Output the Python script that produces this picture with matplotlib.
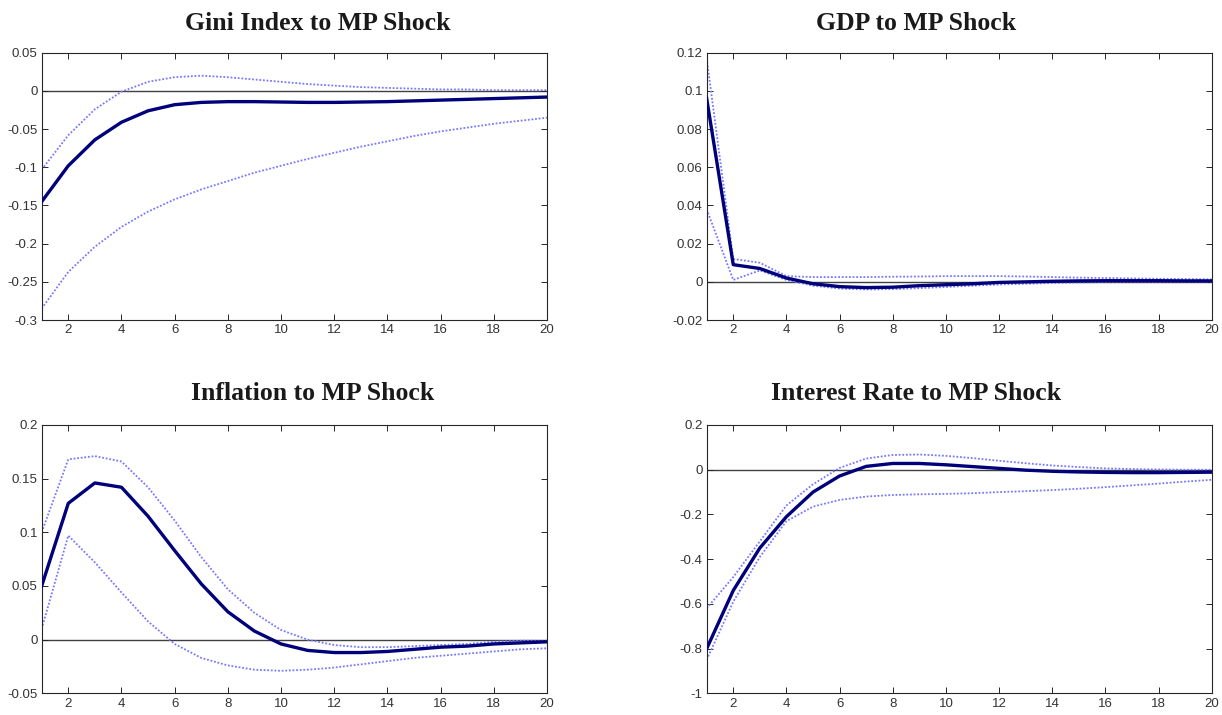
import numpy as np
import matplotlib
matplotlib.use("Agg")
import matplotlib.pyplot as plt

plt.rcParams["font.family"] = ["Liberation Sans", "DejaVu Sans"]

horizon = np.arange(1, 21)

# Gini index response
gini_mean = [-0.145, -0.098, -0.064, -0.041, -0.026, -0.018, -0.015, -0.014, -0.014, -0.0145,
             -0.015, -0.015, -0.0145, -0.014, -0.013, -0.012, -0.011, -0.010, -0.009, -0.008]
gini_upper = [-0.103, -0.058, -0.024, -0.001, 0.012, 0.018, 0.020, 0.018, 0.015, 0.012,
              0.009, 0.007, 0.005, 0.004, 0.003, 0.002, 0.002, 0.001, 0.001, 0.001]
gini_lower = [-0.285, -0.237, -0.204, -0.178, -0.158, -0.142, -0.129, -0.118, -0.107, -0.098,
              -0.089, -0.081, -0.073, -0.066, -0.059, -0.053, -0.048, -0.043, -0.039, -0.035]

# GDP response
gdp_mean = [0.096, 0.009, 0.007, 0.002, -0.001, -0.0025, -0.003, -0.0028, -0.002, -0.0015,
            -0.001, -0.0003, 0.0, 0.0003, 0.0005, 0.0006, 0.0006, 0.0006, 0.0005, 0.0005]
gdp_upper = [0.117, 0.012, 0.010, 0.003, 0.0025, 0.0025, 0.0025, 0.0027, 0.0028, 0.003,
             0.003, 0.003, 0.0028, 0.0025, 0.0022, 0.002, 0.0018, 0.0016, 0.0015, 0.0013]
gdp_lower = [0.038, 0.001, 0.006, 0.001, -0.002, -0.0035, -0.004, -0.0038, -0.0033, -0.0027,
             -0.002, -0.0014, -0.001, -0.0006, -0.0003, -0.0001, 0.0, 0.0, 0.0, 0.0]

# Inflation response
infl_mean = [0.050, 0.127, 0.146, 0.142, 0.115, 0.083, 0.052, 0.026, 0.008, -0.004,
             -0.010, -0.012, -0.012, -0.011, -0.009, -0.007, -0.006, -0.004, -0.003, -0.002]
infl_upper = [0.100, 0.168, 0.171, 0.166, 0.142, 0.111, 0.077, 0.047, 0.025, 0.009,
              0.000, -0.005, -0.007, -0.007, -0.006, -0.005, -0.004, -0.002, -0.001, -0.001]
infl_lower = [0.010, 0.097, 0.072, 0.044, 0.017, -0.004, -0.017, -0.024, -0.028, -0.029,
              -0.028, -0.026, -0.023, -0.020, -0.017, -0.015, -0.013, -0.011, -0.009, -0.008]

# Interest rate response
rate_mean = [-0.80, -0.54, -0.35, -0.21, -0.10, -0.028, 0.015, 0.028, 0.028, 0.022,
             0.014, 0.006, -0.002, -0.007, -0.010, -0.012, -0.013, -0.013, -0.012, -0.011]
rate_upper = [-0.62, -0.48, -0.32, -0.16, -0.065, 0.008, 0.05, 0.066, 0.068, 0.062,
              0.052, 0.04, 0.029, 0.019, 0.012, 0.006, 0.003, 0.001, 0.0, 0.0]
rate_lower = [-0.85, -0.59, -0.39, -0.23, -0.165, -0.135, -0.12, -0.113, -0.11, -0.108,
              -0.105, -0.10, -0.096, -0.091, -0.085, -0.078, -0.07, -0.062, -0.053, -0.045]

panels = [
    ("Gini Index to MP Shock", gini_mean, gini_upper, gini_lower,
     (-0.3, 0.05), [-0.3, -0.25, -0.2, -0.15, -0.1, -0.05, 0, 0.05],
     ["-0.3", "-0.25", "-0.2", "-0.15", "-0.1", "-0.05", "0", "0.05"]),
    ("GDP to MP Shock", gdp_mean, gdp_upper, gdp_lower,
     (-0.02, 0.12), [-0.02, 0, 0.02, 0.04, 0.06, 0.08, 0.1, 0.12],
     ["-0.02", "0", "0.02", "0.04", "0.06", "0.08", "0.1", "0.12"]),
    ("Inflation to MP Shock", infl_mean, infl_upper, infl_lower,
     (-0.05, 0.2), [-0.05, 0, 0.05, 0.1, 0.15, 0.2],
     ["-0.05", "0", "0.05", "0.1", "0.15", "0.2"]),
    ("Interest Rate to MP Shock", rate_mean, rate_upper, rate_lower,
     (-1, 0.2), [-1, -0.8, -0.6, -0.4, -0.2, 0, 0.2],
     ["-1", "-0.8", "-0.6", "-0.4", "-0.2", "0", "0.2"]),
]

rects = [
    [0.0341, 0.5524, 0.4135, 0.3738],
    [0.5783, 0.5524, 0.4133, 0.3738],
    [0.0341, 0.0303, 0.4135, 0.3753],
    [0.5783, 0.0303, 0.4133, 0.3753],
]
title_pos = [(0.260, 0.967), (0.750, 0.967), (0.256, 0.449), (0.750, 0.449)]

fig = plt.figure(figsize=(12.22, 7.15), dpi=100)

for (title, mean, upper, lower, ylim, yt, ytl), rect, tp in zip(panels, rects, title_pos):
    ax = fig.add_axes(rect)
    ax.axhline(0, color="#404040", lw=1.0, zorder=1)
    ax.plot(horizon, upper, color="#7878ff", lw=1.3, ls=(0, (1, 1)), zorder=2)
    ax.plot(horizon, lower, color="#7878ff", lw=1.3, ls=(0, (1, 1)), zorder=2)
    ax.plot(horizon, mean, color="#00007a", lw=2.4, zorder=3)
    ax.set_xlim(1, 20)
    ax.set_ylim(*ylim)
    ax.set_xticks(range(2, 21, 2))
    ax.set_yticks(yt)
    ax.set_yticklabels(ytl)
    ax.tick_params(direction="in", top=True, right=True, length=4, width=0.7,
                   labelsize=9.5, labelcolor="#333333", color="#262626", pad=3)
    for s in ax.spines.values():
        s.set_color("#262626")
        s.set_linewidth(0.8)
    fig.text(tp[0], tp[1], title, ha="center", va="center",
             family=["Liberation Serif", "DejaVu Serif"], fontweight="bold",
             fontsize=18.5, color="#1a1a1a")

fig.savefig("out.png", dpi=100)
